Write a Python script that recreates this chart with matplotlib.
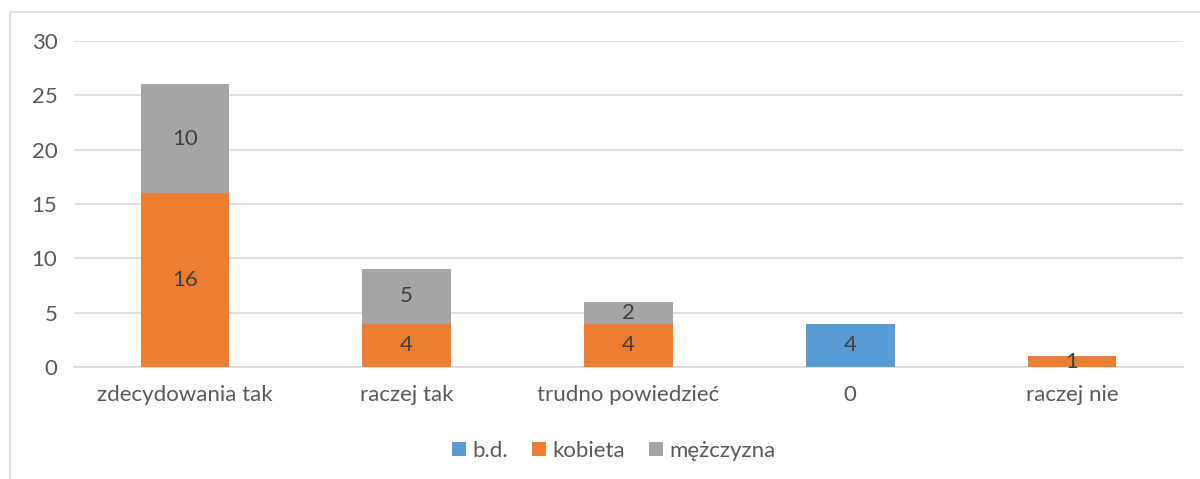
import matplotlib
matplotlib.use("Agg")
import matplotlib.pyplot as plt
from matplotlib.patches import Rectangle
import numpy as np

categories = ["zdecydowania tak", "raczej tak", "trudno powiedzieć", "0", "raczej nie"]
bd = [0, 0, 0, 4, 0]
kobieta = [16, 4, 4, 0, 1]
mezczyzna = [10, 5, 2, 0, 0]
series_names = ["b.d.", "kobieta", "mężczyzna"]
colors = ["#5B9BD5", "#ED7D31", "#A5A5A5"]
yticks = [0, 5, 10, 15, 20, 25, 30]

plt.rcParams['font.family'] = ['Lato', 'DejaVu Sans']
FS = 16

fig = plt.figure(figsize=(12, 4.79), dpi=100)
fig.patches.append(Rectangle((10/1200, -0.1), 1.2, 1 - 12/479 + 0.1, transform=fig.transFigure,
                             fill=False, edgecolor="#D9D9D9", linewidth=1.2))
ax = fig.add_axes([74/1200, 1 - 367/479, (1183-74)/1200, (367-41)/479])

x = np.arange(len(categories))
w = 0.4
bottom = np.zeros(len(categories))
for name, vals, c in zip(series_names, [bd, kobieta, mezczyzna], colors):
    vals = np.array(vals, dtype=float)
    ax.bar(x, vals, w, bottom=bottom, color=c, label=name, zorder=3)
    for xi, v, b in zip(x, vals, bottom):
        if v > 0:
            ax.text(xi, b + v / 2, f"{int(v)}", ha="center", va="center",
                    fontsize=FS, color="#404040", zorder=4)
    bottom += vals

ax.set_xlim(-0.5, len(categories) - 0.5)
ax.set_ylim(0, 30)
ax.set_yticks(yticks)
ax.set_xticks(x)
ax.set_xticklabels(categories)
ax.yaxis.grid(True, color="#D9D9D9", linewidth=1.2, zorder=0)
ax.set_axisbelow(True)
for s in ["top", "right", "left"]:
    ax.spines[s].set_visible(False)
ax.spines["bottom"].set_color("#D9D9D9")
ax.spines["bottom"].set_linewidth(1.2)
ax.tick_params(axis="both", length=0, labelsize=FS, labelcolor="#595959")
ax.tick_params(axis="y", pad=12)
ax.tick_params(axis="x", pad=13)

fig.legend(loc="center", bbox_to_anchor=(614/1200, 1 - 451/479), ncol=3, frameon=False,
           fontsize=FS, handlelength=0.6, handleheight=0.6, handletextpad=0.3,
           columnspacing=1.1, labelcolor="#595959")

fig.savefig("out.png", dpi=100)
